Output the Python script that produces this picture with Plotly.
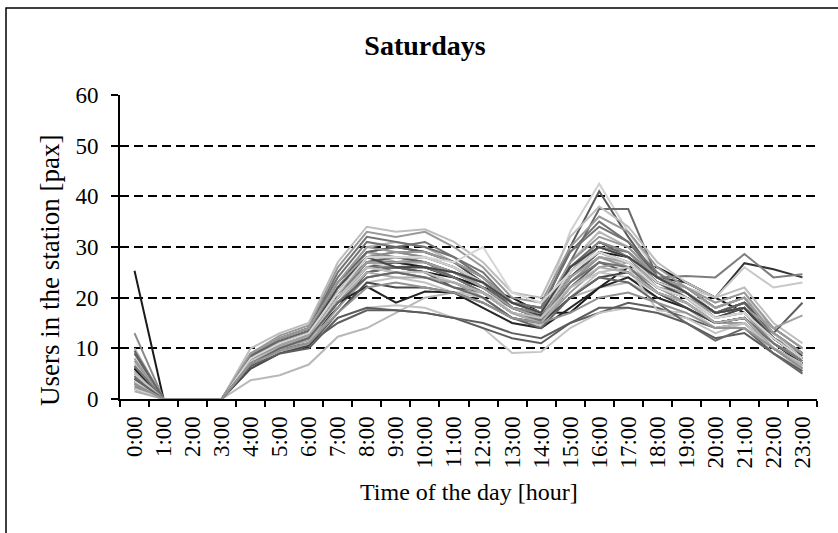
import plotly.graph_objects as go

hours = [f"{h}:00" for h in range(24)]

s01 = [25.3,0,0,0, 7.5,10,12,18,25,26,25,24,22,20,17,17,22,26,26,23,20,17,12,9]
s02 = [13,0,0,0, 8,11,13,22,29,28,27,25,23,19,17,25,30,28,22,21,16,18,12,8]
s03 = [10,0,0,0, 9,12,14,23,30,31,30,27,24,18,16,27,33,30,24,20,17,19,13,9]
s04 = [9,0,0,0, 7,10,12,20,27,26,25,22,21,17,15,22,27,25,21,19,15,16,11,7]
s05 = [8,0,0,0, 8,11,13,21,28,29,28,26,22,18,17,26,31,29,23,21,16,17,12,8]
s06 = [7,0,0,0, 6.5,10,12,19,26,27,26,24,21,17,15.5,24,29,27,22,20,15,16,11,7.5]
s07 = [6,0,0,0, 8.5,12,14,24,31,30,31,28,24,19,18,29,35,31,24,22,18,20,14,10]
s08 = [5,0,0,0, 7,9.5,11,18,24,25,24,23,20,16,15,21,26,27,22,19,15,15,10,6]
s09 = [4,0,0,0, 6,9,11,17,23,24,23,21,20,16,14.5,20,25,24,21,18,14,15,10,7]
s10 = [3.5,0,0,0, 7.5,11,13,22,29,30,29,27,23,18,16.5,25,30,28,23,20,16,18,12,8.5]
s11 = [2,0,0,0, 3.7,4.7,6.8,12.3,14,17,20,21,21,17,15,20,22,23,20,18,15,16,11,7]
s12 = [5.5,0,0,0, 8,11,13,21,27,28,27,25,22,18,17,33,42.5,33,25,22,19,21,13,9]
s13 = [6.5,0,0,0, 7.5,10.5,12.5,20,26,27,26,25,22,19,17,30,41,32,24,21,17,18,12,8]
s14 = [4.5,0,0,0, 7,10,12,19,25,26,26,24,21,17,15.5,27,37.5,37.5,24,22,18,20,12,8]
s15 = [3,0,0,0, 8,11,13,21,28,27,27,25,22,18,17,26,30,28,24,23,20,26.8,25.6,24]
s16 = [4,0,0,0, 7.5,10,12,20,27,28,27,24,21,18,16,25,30,29,24,24.3,24,28.6,24,24.6]
s17 = [2.5,0,0,0, 8,11,13,22,28,27,26,25,23,19,17,24,28,27,23,22,20,26,22,23]
s18 = [5,0,0,0, 7,10,11,15,17.5,17.5,17,16,15,13,12,15,17,19,18,16,14,15,10,7]
s19 = [3,0,0,0, 7.5,9.5,11,16,18,18.5,18,16,14,9.1,9.3,14,17,18,17,16,13,15,9,6]
s20 = [6,0,0,0, 7,10,12,19,22.2,19,21.2,21,18,15,14,18,22,24,20,18,15,16,11,7]
s21 = [4.5,0,0,0, 8,12,14,25,32,31,30,28,25,19,18,29,34,31,25,21,17,19,13,9]
s22 = [7.5,0,0,0, 9,12.5,14.5,26,33,32,33,30,26,20,19,30,36,33,26,22,19,21,14,10]
s23 = [3,0,0,0, 10,13,15,27,34,33,33.5,31,27,21,20,32,38,34,27,23,20,22,15,11]
s24 = [2,0,0,0, 6,9,10.5,17,23,22,22,21,19,16,15,20,24,25,21,18,15,16,10,7]
s25 = [5.5,0,0,0, 8,11,13,22,29,27,28,26,23,18,16,23,28,27,23,21,17,18,12,8]
s26 = [4,0,0,0, 7,10.5,12.5,21,27,26,27,25,22,17,16,24,29,26,22,20,16,17,11,7.5]
s27 = [9.5,0,0,0, 8.5,11.5,13.5,23,29,30,29,27,24,19,17,26,31,28,23,21,17,19,13,9]
s28 = [3,0,0,0, 7,10,12,20,26,25,24,23,21,17,16,23,28,26,22,20,16,17,11,8]
s29 = [6,0,0,0, 8,11,13,21,27,27,26,24,22,18,16,24,29,28,23,21,17,18,12,8]
s30 = [2.5,0,0,0, 7.5,11,13,22,28,29,28,26,23,18,17,25,31,29,24,21,17,19,12,9]
s31 = [3.5,0,0,0, 6.5,9,10,16,18,17.5,17,16,14,12,11,15,18,18,17,15,12,13,9,5.5]
s32 = [4,0,0,0, 8,11,13,21,27,28,27,25,23,18,16,24,29,27,22,20,17,19,13,19]
s33 = [5,0,0,0, 7.5,10.5,12.5,21,27,27,27,25,22,18,16,24,28,27,22,20,17,18,14,16.5]
s34 = [2,0,0,0, 8,11,13,22,28,28,28,26,23,19,17,25,30,28,23,21,18,20,13,8]
s35 = [6.5,0,0,0, 7,10,12,20,26,26,26,24,21,17,15.5,23,27,26,21,19,15,16,11,7.5]
s36 = [3,0,0,0, 9,12,14,23,30,29,29,27,24,19,17,27,32,30,24,22,18,20,13,9]
s37 = [5,0,0,0, 7.5,10,12,20,26,25,25,23,21,17,16,22,25,26,17.5,17,14,15,10,7]
s38 = [4,0,0,0, 8,11,13,22,28,26,26,25,23,19,17,26,30,28,24,21,17,18,12,8]
s39 = [1.5,0,0,0, 7,10,11.5,19,25,24,24,23,21,17,15,22,26,25,21,19,15,16,10,6.5]
s40 = [3.5,0,0,0, 8,11,13,21,28,28,28,27,30,21,19,25,29,27,22,20,16,17,12,8]
s41 = [4,0,0,0, 7,10,12,19,24,25,24,22,20,16,14,20,24,23,19,15,11.5,14,9,5]
s42 = [3,0,0,0, 7,9.5,11,17,22,23,22,21,19,16,15,17,20,21,19,17,14,14,10,6]

series = [s01, s02, s03, s04, s05, s06, s07, s08, s09, s10, s11, s12, s13, s14,
          s15, s16, s17, s18, s19, s20, s21, s22, s23, s24, s25, s26, s27, s28,
          s29, s30, s31, s32, s33, s34, s35, s36, s37, s38, s39, s40, s41, s42]

grays = ["#1c1c1c", "#8a8a8a", "#b5b5b5", "#5e5e5e", "#a0a0a0", "#cfcfcf",
         "#737373", "#999999", "#c2c2c2", "#474747", "#adadad", "#d6d6d6",
         "#666666", "#929292"]
special = {0: "#1a1a1a", 10: "#b8b8b8", 11: "#d0d0d0", 12: "#5a5a5a",
           13: "#6a6a6a", 14: "#333333", 15: "#7d7d7d", 16: "#c8c8c8",
           18: "#c4c4c4", 19: "#262626", 22: "#bdbdbd", 30: "#5c5c5c"}

FONT = "Liberation Serif"

fig = go.Figure()
for i, s in enumerate(series):
    col = special.get(i, grays[i % len(grays)])
    fig.add_trace(go.Scatter(x=hours, y=s, mode="lines",
                             line=dict(color=col, width=2),
                             showlegend=False, hoverinfo="skip"))

W, H = 838, 533
L, R, T, B = 120, 21, 95, 134
pw, ph = W - L - R, H - T - B

def px(x):
    return (x - L) / pw

def py(y):
    return (H - B - y) / ph

fig.update_layout(
    width=W, height=H,
    margin=dict(l=L, r=R, t=T, b=B),
    paper_bgcolor="white", plot_bgcolor="white",
    font=dict(family=FONT, color="black"),
    title=dict(text="<b>Saturdays</b>", font=dict(family=FONT, size=28, color="black"),
               x=425 / W, xref="container", xanchor="center",
               y=1 - 45 / H, yref="container", yanchor="middle"),
    xaxis=dict(type="category", categoryorder="array", categoryarray=hours,
               range=[-0.5, 23.5], tickangle=-90, tickson="boundaries",
               ticks="outside", ticklen=6, tickwidth=1.5, tickcolor="black",
               showline=True, linewidth=2, linecolor="black",
               showgrid=False, zeroline=False,
               tickfont=dict(family=FONT, size=23, color="black"),
               ticklabelstandoff=6),
    yaxis=dict(range=[0, 60], dtick=10, tick0=0,
               ticks="outside", ticklen=7, tickwidth=1.5, tickcolor="black",
               showline=True, linewidth=2, linecolor="black",
               showgrid=True, gridcolor="black", gridwidth=1.5, griddash="9px,5px",
               zeroline=False,
               tickfont=dict(family=FONT, size=23, color="black"),
               ticklabelstandoff=8),
    annotations=[
        dict(text="Time of the day [hour]", xref="paper", yref="paper",
             x=px(469), y=py(492), xanchor="center", yanchor="middle",
             showarrow=False, font=dict(family=FONT, size=24, color="black")),
        dict(text="Users in the station [pax]", xref="paper", yref="paper",
             x=px(50), y=py(271), xanchor="center", yanchor="middle", textangle=-90,
             showarrow=False, font=dict(family=FONT, size=27, color="black")),
    ],
    shapes=[
        dict(type="rect", xref="paper", yref="paper",
             x0=px(6), x1=px(846), y0=py(545), y1=py(8),
             line=dict(color="black", width=1.5), fillcolor="rgba(0,0,0,0)",
             layer="below"),
    ],
)

fig.write_html("out.html")
